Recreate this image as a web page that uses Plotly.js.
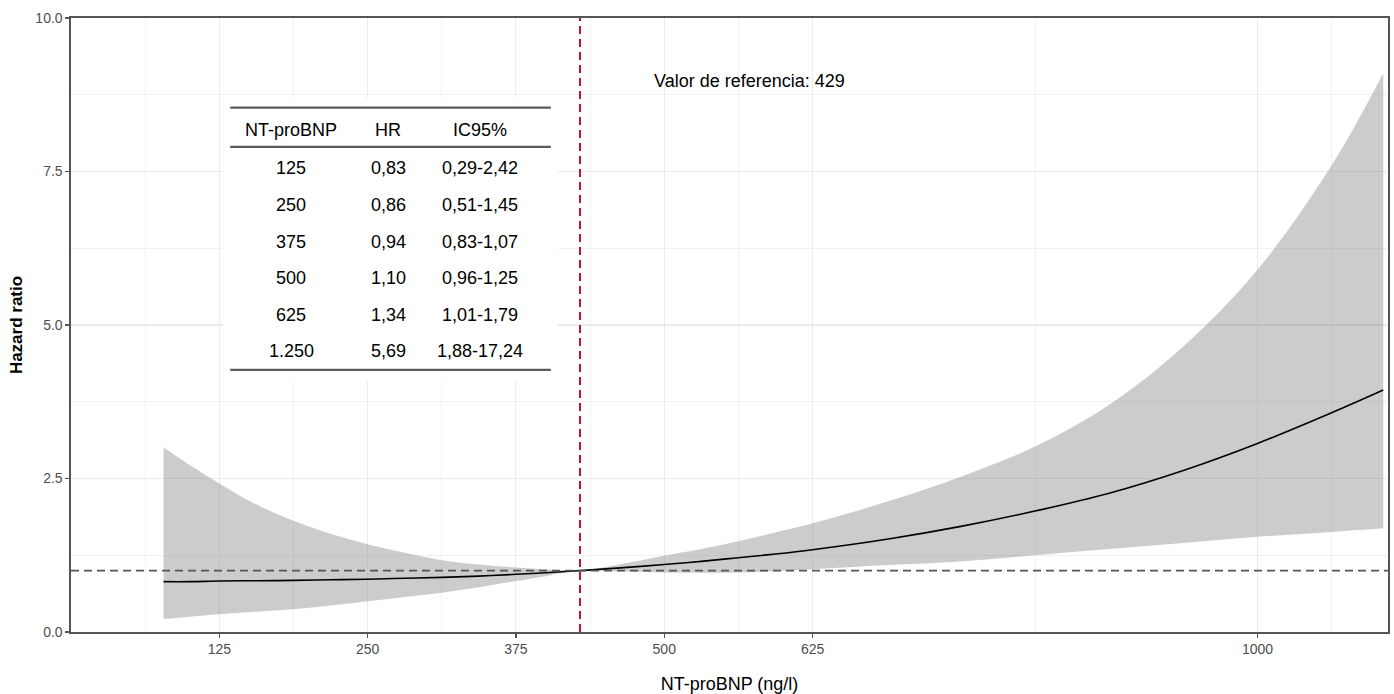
<!DOCTYPE html>
<html>
<head>
<meta charset="utf-8">
<script src="https://cdn.plot.ly/plotly-3.0.1.min.js"></script>
<style>html,body{margin:0;padding:0;background:#fff;}#chart{width:1394px;height:694px;}</style>
</head>
<body>
<div id="chart"></div>
<script>
// ---- Data ----
const ntprobnp = [78, 100, 125, 156, 187.5, 218.75, 250, 281.25, 312.5, 343.75, 375, 400, 429, 460, 500, 531.25, 562.5, 593.75, 625, 687.5, 750, 812.5, 875, 937.5, 1000, 1062.5, 1106];
const hazardRatio = [0.82, 0.82, 0.83, 0.835, 0.84, 0.85, 0.86, 0.875, 0.89, 0.91, 0.94, 0.965, 1.0, 1.04, 1.10, 1.15, 1.21, 1.27, 1.34, 1.51, 1.72, 1.97, 2.26, 2.63, 3.07, 3.57, 3.94];
const ciUpper = [3.01, 2.72, 2.42, 2.08, 1.81, 1.60, 1.43, 1.29, 1.17, 1.10, 1.05, 1.02, 1.0, 1.09, 1.24, 1.35, 1.48, 1.62, 1.77, 2.12, 2.53, 3.02, 3.70, 4.65, 5.90, 7.60, 9.10];
const ciLower = [0.21, 0.25, 0.29, 0.33, 0.37, 0.43, 0.50, 0.57, 0.64, 0.73, 0.83, 0.91, 1.0, 0.99, 0.97, 0.965, 0.97, 0.99, 1.02, 1.09, 1.15, 1.25, 1.35, 1.45, 1.55, 1.63, 1.69];
const referenceValue = 429;
const referenceHR = 1;

const xTickVals = [125, 250, 375, 500, 625, 1000];
const xTickText = ["125", "250", "375", "500", "625", "1000"];
const xMinorVals = [62.5, 187.5, 312.5, 437.5, 562.5, 812.5, 1062.5];
const yTickVals = [0, 2.5, 5, 7.5, 10];
const yTickText = ["0.0", "2.5", "5.0", "7.5", "10.0"];
const yMinorVals = [1.25, 3.75, 6.25, 8.75];

const tableHeader = ["NT-proBNP", "HR", "IC95%"];
const tableNT = ["125", "250", "375", "500", "625", "1.250"];
const tableHR = ["0,83", "0,86", "0,94", "1,10", "1,34", "5,69"];
const tableCI = ["0,29-2,42", "0,51-1,45", "0,83-1,07", "0,96-1,25", "1,01-1,79", "1,88-17,24"];
const refLabel = "Valor de referencia: 429";

// ---- Layout helpers ----
const FONT = '"Liberation Sans", Arial, Helvetica, sans-serif';
const colX = [185.6, 267.2, 344.8];      // table column centres (x data units)
const tableLeft = 134.2, tableRight = 404.4;
const headerY = 8.17, firstRowY = 7.55, rowStep = 0.595;
const ruleTop = 8.54, ruleMid = 7.90, ruleBottom = 4.27;

const traces = [
  {x: ntprobnp, y: ciLower, type: 'scatter', mode: 'lines',
   line: {width: 0, shape: 'spline', smoothing: 1, color: 'rgba(0,0,0,0)'},
   hoverinfo: 'skip', showlegend: false},
  {x: ntprobnp, y: ciUpper, type: 'scatter', mode: 'lines', fill: 'tonexty',
   fillcolor: 'rgba(128,128,128,0.4)',
   line: {width: 0, shape: 'spline', smoothing: 1, color: 'rgba(0,0,0,0)'},
   hoverinfo: 'skip', showlegend: false},
  {x: ntprobnp, y: hazardRatio, type: 'scatter', mode: 'lines',
   line: {width: 1.6, color: '#000', shape: 'spline', smoothing: 1},
   showlegend: false}
];

const shapes = [
  // white table background (hides grid)
  {type: 'rect', xref: 'x', yref: 'y', x0: 128, x1: 410, y0: 4.08, y1: 8.7,
   fillcolor: '#ffffff', line: {width: 0}, layer: 'between'},
  {type: 'line', xref: 'x', yref: 'y', x0: tableLeft, x1: tableRight, y0: ruleTop, y1: ruleTop,
   line: {color: '#5a5a5a', width: 2.3}, layer: 'above'},
  {type: 'line', xref: 'x', yref: 'y', x0: tableLeft, x1: tableRight, y0: ruleMid, y1: ruleMid,
   line: {color: '#5a5a5a', width: 2.3}, layer: 'above'},
  {type: 'line', xref: 'x', yref: 'y', x0: tableLeft, x1: tableRight, y0: ruleBottom, y1: ruleBottom,
   line: {color: '#5a5a5a', width: 2.3}, layer: 'above'},
  // reference lines
  {type: 'line', xref: 'paper', yref: 'y', x0: 0, x1: 1, y0: referenceHR, y1: referenceHR,
   line: {color: '#555555', width: 1.6, dash: '8px,5px'}, layer: 'above'},
  {type: 'line', xref: 'x', yref: 'paper', x0: referenceValue, x1: referenceValue, y0: 0, y1: 1,
   line: {color: '#c8102e', width: 2, dash: '8px,5px'}, layer: 'above'}
];

const annotations = [];
const tableFont = {family: FONT, size: 18, color: '#000'};
tableHeader.forEach((h, i) => annotations.push({
  x: colX[i], y: headerY, xref: 'x', yref: 'y', text: h, showarrow: false,
  xanchor: 'center', yanchor: 'middle', font: tableFont}));
const cols = [tableNT, tableHR, tableCI];
tableNT.forEach((_, r) => {
  cols.forEach((col, c) => annotations.push({
    x: colX[c], y: firstRowY - r * rowStep, xref: 'x', yref: 'y', text: col[r], showarrow: false,
    xanchor: 'center', yanchor: 'middle', font: tableFont}));
});
annotations.push({x: 489.8, y: 8.97, xref: 'x', yref: 'y', text: refLabel, showarrow: false,
  xanchor: 'left', yanchor: 'middle', font: {family: FONT, size: 18, color: '#000'}});

const layout = {
  width: 1394, height: 694,
  margin: {l: 71, r: 6, t: 18, b: 62, pad: 0},
  paper_bgcolor: '#ffffff', plot_bgcolor: '#ffffff',
  font: {family: FONT},
  showlegend: false,
  xaxis: {
    range: [0, 1110], tickmode: 'array', tickvals: xTickVals, ticktext: xTickText,
    showgrid: true, gridcolor: '#ebebeb', gridwidth: 1.1,
    minor: {tickmode: 'array', tickvals: xMinorVals, showgrid: true, gridcolor: '#f0f0f0', gridwidth: 0.9, ticks: ''},
    zeroline: false, showline: true, linecolor: '#555555', linewidth: 1.6, mirror: true,
    ticks: 'outside', ticklen: 4, tickwidth: 1.2, tickcolor: '#555555',
    tickfont: {family: FONT, size: 14, color: '#4d4d4d'},
    title: {text: 'NT-proBNP (ng/l)', font: {family: FONT, size: 18, color: '#000'}, standoff: 24},
    automargin: false
  },
  yaxis: {
    range: [0, 10], tickmode: 'array', tickvals: yTickVals, ticktext: yTickText,
    showgrid: true, gridcolor: '#ebebeb', gridwidth: 1.1,
    minor: {tickmode: 'array', tickvals: yMinorVals, showgrid: true, gridcolor: '#f0f0f0', gridwidth: 0.9, ticks: ''},
    zeroline: false, showline: true, linecolor: '#555555', linewidth: 1.6, mirror: true,
    ticks: 'outside', ticklen: 4, tickwidth: 1.2, tickcolor: '#555555',
    tickfont: {family: FONT, size: 14, color: '#4d4d4d'},
    title: {text: '<b>Hazard ratio</b>', font: {family: FONT, size: 17, color: '#000'}, standoff: 8},
    automargin: false
  },
  shapes: shapes,
  annotations: annotations
};

Plotly.newPlot('chart', traces, layout, {displayModeBar: false, staticPlot: true});
</script>
</body>
</html>
